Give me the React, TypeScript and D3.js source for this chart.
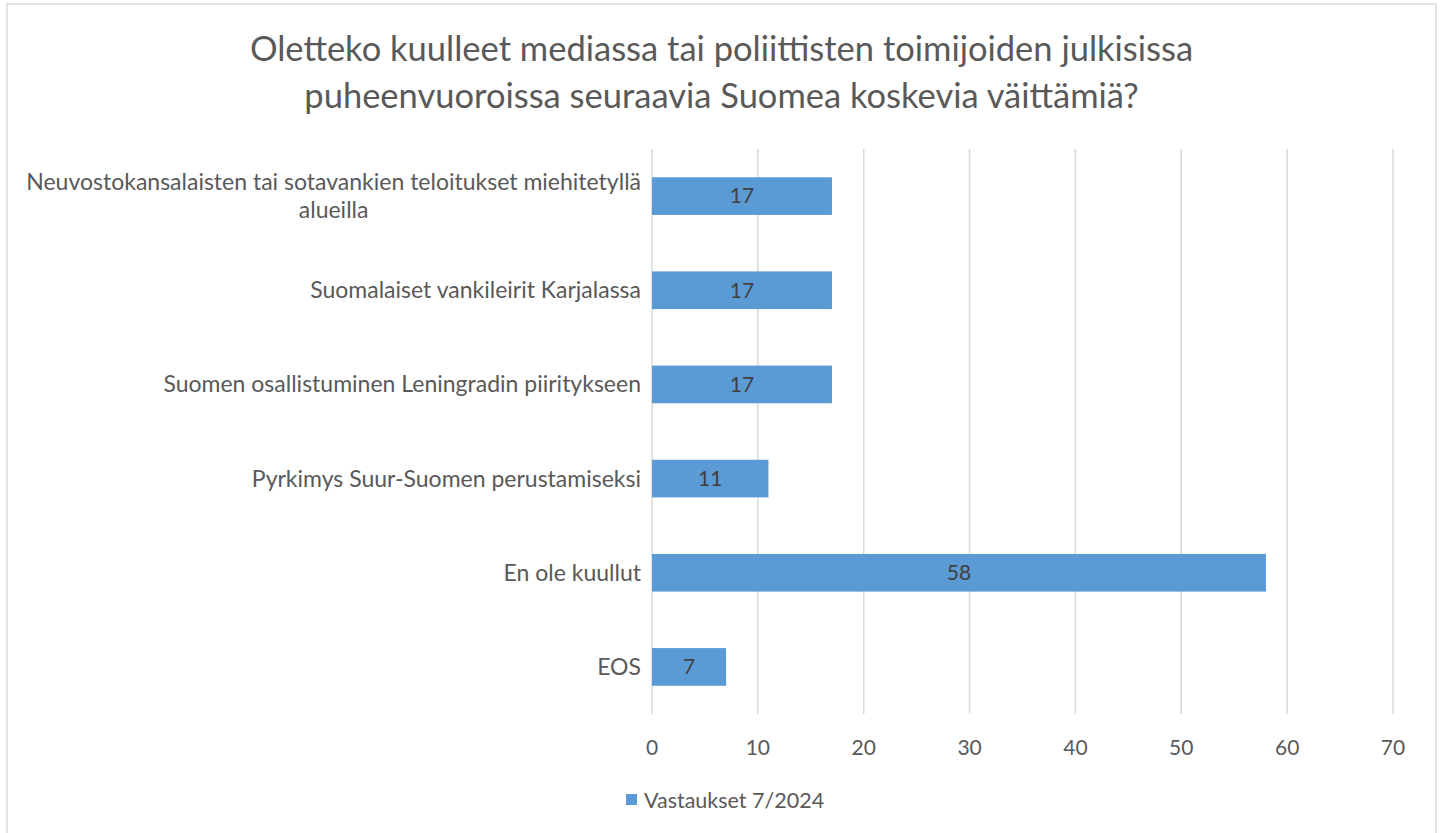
import React, { useRef, useEffect } from 'react';
import * as d3 from 'd3';

const W = 1443;
const H = 833;

const categories = [
  'Neuvostokansalaisten tai sotavankien teloitukset miehitetyllä|alueilla',
  'Suomalaiset vankileirit Karjalassa',
  'Suomen osallistuminen Leningradin piiritykseen',
  'Pyrkimys Suur-Suomen perustamiseksi',
  'En ole kuullut',
  'EOS',
];
const values = [17, 17, 17, 11, 58, 7];
const ticks = [0, 10, 20, 30, 40, 50, 60, 70];
const titleLines = [
  'Oletteko kuulleet mediassa tai poliittisten toimijoiden julkisissa',
  'puheenvuoroissa seuraavia Suomea koskevia väittämiä?',
];
const seriesName = 'Vastaukset 7/2024';

const FONT = 'Lato, "Open Sans", sans-serif';
const TEXT = '#595959';
const BAR = '#5b9bd5';
const GRID = '#d9d9d9';

export default function App() {
  const svgRef = useRef<SVGSVGElement>(null);

  useEffect(() => {
    if (!svgRef.current) return;
    const svg = d3.select(svgRef.current);
    svg.selectAll('*').remove();

    const x = d3.scaleLinear().domain([0, 70]).range([652, 1393]);
    const y = d3.scaleBand().domain(categories).range([149, 714]).paddingInner(0.6).paddingOuter(0.3);

    // frame
    svg.append('rect')
      .attr('x', 7).attr('y', 4).attr('width', 1429).attr('height', 840)
      .attr('fill', '#fff').attr('stroke', '#d9d9d9').attr('stroke-width', 1.5);

    // title
    svg.append('g').selectAll('text').data(titleLines).join('text')
      .attr('x', 721.5).attr('y', (_, i) => 61 + i * 47)
      .attr('text-anchor', 'middle')
      .attr('fill', TEXT).attr('font-family', FONT).attr('font-size', 34.5)
      .text((d) => d);

    // gridlines
    svg.append('g').selectAll('line').data(ticks).join('line')
      .attr('x1', (d) => x(d)).attr('x2', (d) => x(d))
      .attr('y1', 149).attr('y2', 714)
      .attr('stroke', GRID).attr('stroke-width', 1.5);

    // tick labels
    svg.append('g').selectAll('text').data(ticks).join('text')
      .attr('x', (d) => x(d)).attr('y', 755)
      .attr('text-anchor', 'middle')
      .attr('fill', TEXT).attr('font-family', FONT).attr('font-size', 21)
      .text((d) => d);

    // bars
    svg.append('g').selectAll('rect').data(values).join('rect')
      .attr('x', x(0)).attr('width', (d) => x(d) - x(0))
      .attr('y', (_, i) => y(categories[i])!)
      .attr('height', y.bandwidth())
      .attr('fill', BAR);

    // data labels
    svg.append('g').selectAll('text').data(values).join('text')
      .attr('x', (d) => (x(0) + x(d)) / 2)
      .attr('y', (_, i) => y(categories[i])! + y.bandwidth() / 2)
      .attr('dy', '0.35em')
      .attr('text-anchor', 'middle')
      .attr('fill', '#404040').attr('font-family', FONT).attr('font-size', 21)
      .text((d) => d);

    // category labels (wrapped lines centred on each other, block right-aligned)
    const labelG = svg.append('g');
    categories.forEach((c) => {
      const lines = c.split('|');
      const cy = y(c)! + y.bandwidth() / 2;
      const lh = 28;
      const t = labelG.append('text')
        .attr('fill', TEXT).attr('font-family', FONT).attr('font-size', 23);
      const spans = lines.map((l, i) =>
        t.append('tspan')
          .attr('x', 641)
          .attr('y', cy + (i - (lines.length - 1) / 2) * lh)
          .attr('dy', '0.35em')
          .attr('text-anchor', 'end')
          .text(l)
      );
      if (lines.length > 1) {
        const widths = spans.map((s) => (s.node() as SVGTextContentElement).getComputedTextLength());
        const maxW = Math.max(...widths);
        const center = 641 - maxW / 2;
        spans.forEach((s) => s.attr('x', center).attr('text-anchor', 'middle'));
      }
    });

    // legend
    svg.append('rect')
      .attr('x', 626).attr('y', 794).attr('width', 11).attr('height', 11)
      .attr('fill', BAR);
    svg.append('text')
      .attr('x', 644).attr('y', 808)
      .attr('fill', TEXT).attr('font-family', FONT).attr('font-size', 21.5)
      .text(seriesName);
  }, []);

  return (
    <svg
      ref={svgRef}
      width={W}
      height={H}
      style={{ position: 'fixed', left: 0, top: 0, background: '#fff' }}
    />
  );
}
